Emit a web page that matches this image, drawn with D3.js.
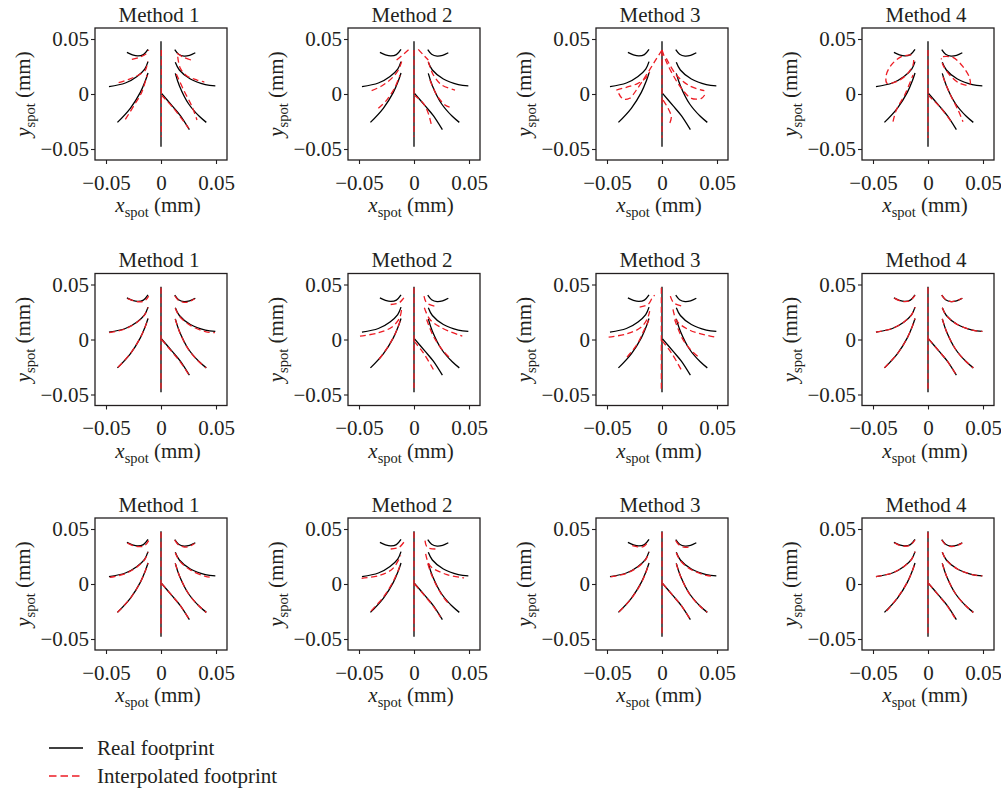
<!DOCTYPE html>
<html><head><meta charset="utf-8">
<script src="https://cdn.jsdelivr.net/npm/d3@7"></script>
<style>
body{margin:0;background:#fff}
text{font-family:"Liberation Serif","DejaVu Serif",serif;fill:#231f20}
</style>
</head><body><svg id="c" width="1001" height="791"></svg>
<script>
// ---------- data ----------
const methods = ["Method 1","Method 2","Method 3","Method 4"];
const xTicks = [-0.05, 0, 0.05];
const yTicks = [-0.05, 0, 0.05];
const legendLabels = ["Real footprint","Interpolated footprint"];

// real footprint (same in every panel), mm
const realV  = [[0,0.048],[0,-0.048]];
const realTL = [[-0.031,0.0378],[-0.026,0.0356],[-0.021,0.0346],[-0.016,0.0358],[-0.0118,0.0405]];
const realTR = [[0.0125,0.0403],[0.016,0.0362],[0.021,0.0345],[0.026,0.0352],[0.0312,0.0375]];
const realML = [[-0.0473,0.0067],[-0.0324,0.0100],[-0.0218,0.0160],[-0.0148,0.0227],[-0.0118,0.0294]];
const realMR = [[0.013,0.0288],[0.0167,0.0218],[0.0267,0.0136],[0.0403,0.0085],[0.0494,0.0073]];
const realLL = [[-0.0396,-0.0258],[-0.0279,-0.013],[-0.0188,0.0015],[-0.0142,0.0121],[-0.0118,0.0191]];
const realLR = [[0.013,0.0188],[0.0167,0.0076],[0.0252,-0.0091],[0.0348,-0.0203],[0.0412,-0.0258]];
const realD  = [[0.0005,0.0005],[0.010,-0.0106],[0.0176,-0.0197],[0.0258,-0.0324]];
const realCurves = [realV, realTL, realTR, realML, realMR, realLL, realLR, realD];

// interpolated footprints, one list of curves per panel (row by row)
const interp1_1 = [
 [[0.0003,0.040],[0.0003,-0.039]],
 [[-0.0265,0.0315],[-0.019,0.0335],[-0.013,0.037],[-0.0112,0.040]],
 [[-0.0385,0.0103],[-0.0294,0.0133],[-0.0203,0.0173],[-0.0142,0.0218],[-0.0121,0.0294]],
 [[-0.0324,-0.023],[-0.0248,-0.0109],[-0.0173,0.0021],[-0.0127,0.0173]],
 [[0.0145,0.037],[0.0206,0.0333],[0.0273,0.0309]],
 [[0.0152,0.0339],[0.0176,0.0233],[0.0236,0.0164],[0.0327,0.0127],[0.0394,0.0109]],
 [[0.0139,0.0182],[0.0206,0.0036],[0.0282,-0.0115],[0.0327,-0.0236]],
 [[0.0003,-0.0009],[0.0115,-0.013],[0.0252,-0.0312]]
];
const interp1_2 = [
 [[0,0.040],[0,-0.039]],
 [[-0.0158,0.031],[-0.0085,0.037],[-0.004,0.041]],
 [[-0.0385,0.003],[-0.0294,0.0073],[-0.0203,0.0142],[-0.0142,0.0218],[-0.0112,0.0294]],
 [[-0.0324,-0.013],[-0.0248,-0.0055],[-0.0173,0.0061],[-0.0127,0.0173]],
 [[0.0039,0.0406],[0.0085,0.0355],[0.013,0.0309]],
 [[0.013,0.0294],[0.0176,0.0173],[0.0252,0.0082],[0.0373,0.0036]],
 [[0.0145,0.0127],[0.0206,-0.0009],[0.0282,-0.010],[0.0327,-0.0121]],
 [[0,-0.001],[0.0085,-0.0085],[0.013,-0.0176],[0.016,-0.029]]
];
const interp1_3 = [
 [[0,0.040],[0,-0.040]],
 [[0,0.040],[-0.0067,0.0294],[-0.0142,0.0173],[-0.0233,0.0036],[-0.0294,-0.0039],[-0.0355,-0.0045],[-0.0394,0.0006]],
 [[-0.0415,0.0036],[-0.0324,0.0061],[-0.0218,0.0097],[-0.0142,0.0152],[-0.0112,0.0203]],
 [[0,0.040],[0.0039,0.0294],[0.010,0.0173],[0.0176,0.0052],[0.0267,-0.0039],[0.0358,-0.0039],[0.0388,-0.0009]],
 [[0.0039,0.0324],[0.013,0.0173],[0.0252,0.0073],[0.0385,0.003]],
 [[0.001,-0.0055],[0.0055,-0.013],[0.0085,-0.0206],[0.007,-0.0267]]
];
const interp1_4 = [
 [[0,0.040],[0,-0.040]],
 [[-0.0152,0.0355],[-0.0242,0.034],[-0.0333,0.0264],[-0.0379,0.0173],[-0.0373,0.0097],[-0.0288,0.0112],[-0.0197,0.0173],[-0.0136,0.0264],[-0.013,0.034]],
 [[-0.0318,-0.0252],[-0.0288,-0.0145],[-0.0212,-0.0009],[-0.0136,0.0173]],
 [[0.0136,0.034],[0.0227,0.0333],[0.0318,0.0248],[0.0379,0.0142],[0.0379,0.0082],[0.0288,0.0097],[0.0197,0.0173],[0.0136,0.0264],[0.0121,0.0324]],
 [[0.0136,0.0158],[0.0197,0.0006],[0.0273,-0.0145],[0.0318,-0.0252]],
 [[0,-0.001],[0.0106,-0.0115],[0.0212,-0.0252]]
];
const interp2_1 = [
 [[0,0.047],[0,-0.047]],
 [[-0.0303,0.0372],[-0.025,0.0352],[-0.020,0.0343],[-0.015,0.035],[-0.0112,0.0395]],
 [[-0.047,0.0062],[-0.0324,0.0096],[-0.0218,0.0157],[-0.0148,0.0225],[-0.0118,0.0292]],
 [[-0.039,-0.0252],[-0.0279,-0.0128],[-0.0188,0.0017],[-0.0142,0.012],[-0.0118,0.019]],
 [[0.0125,0.0398],[0.016,0.0355],[0.021,0.0338],[0.026,0.0345],[0.0305,0.037]],
 [[0.013,0.0285],[0.0167,0.0212],[0.0267,0.0128],[0.0403,0.0072],[0.049,0.0062]],
 [[0.013,0.0185],[0.0167,0.0073],[0.0252,-0.0094],[0.0348,-0.0205],[0.041,-0.0256]],
 [[0.0005,0],[0.010,-0.0112],[0.0176,-0.0205],[0.0258,-0.0328]]
];
const interp2_2 = [
 [[0,0.047],[0,-0.044]],
 [[-0.0212,0.0318],[-0.0136,0.0333],[-0.0091,0.0379],[-0.0076,0.0394]],
 [[-0.0491,0.003],[-0.0324,0.0061],[-0.0203,0.0112],[-0.013,0.0197],[-0.0112,0.0288]],
 [[-0.0318,-0.018],[-0.0233,-0.0061],[-0.0167,0.0061],[-0.0127,0.0167]],
 [[0.0091,0.0394],[0.0115,0.0333],[0.0191,0.0303]],
 [[0.0094,0.0288],[0.0145,0.0182],[0.0252,0.0106],[0.0439,0.003]],
 [[0.0115,0.0182],[0.0176,0.003],[0.0267,-0.0106],[0.0342,-0.0182]],
 [[0,-0.0015],[0.0085,-0.0121],[0.0176,-0.0273]]
];
const interp2_3 = [
 [[-0.0006,0.047],[-0.0006,-0.045]],
 [[-0.0203,0.0294],[-0.0127,0.0318],[-0.0088,0.0379],[-0.0067,0.0403]],
 [[-0.0485,0.0021],[-0.0318,0.0052],[-0.0197,0.0106],[-0.0136,0.0182],[-0.0112,0.0258]],
 [[-0.0318,-0.016],[-0.0227,-0.0045],[-0.0167,0.0076],[-0.0121,0.0173]],
 [[0.0076,0.0394],[0.0106,0.0333],[0.0191,0.0303]],
 [[0.010,0.0273],[0.0136,0.0167],[0.0258,0.0082],[0.0485,0.0021]],
 [[0.0115,0.0182],[0.0182,0.0015],[0.0258,-0.0091],[0.0324,-0.0152]],
 [[0,-0.001],[0.0085,-0.0121],[0.0182,-0.0288]]
];
const interp2_4 = [
 [[0,0.047],[0,-0.047]],
 [[-0.0305,0.0376],[-0.026,0.0353],[-0.021,0.0344],[-0.016,0.0356],[-0.0118,0.0402]],
 realTR, realML, realMR, realLL, realLR, realD
];
const interp3_1 = [
 [[0,0.047],[0,-0.047]],
 [[-0.0305,0.0372],[-0.025,0.0348],[-0.020,0.0339],[-0.015,0.0348],[-0.0112,0.0395]],
 [[-0.0466,0.0060],[-0.0324,0.0094],[-0.0218,0.0155],[-0.0148,0.0222],[-0.0118,0.0288]],
 realLL,
 [[0.0125,0.0398],[0.016,0.0355],[0.021,0.0336],[0.026,0.0343],[0.0305,0.0368]],
 [[0.013,0.0284],[0.0167,0.0212],[0.0267,0.0128],[0.0403,0.0070],[0.0455,0.0062]],
 realLR, realD
];
const interp3_2 = [
 [[0,0.047],[0,-0.043]],
 [[-0.0212,0.0318],[-0.0136,0.0333],[-0.0082,0.0394]],
 [[-0.0476,0.0052],[-0.0318,0.0076],[-0.0197,0.0136],[-0.0136,0.0227],[-0.0121,0.0258]],
 [[-0.039,-0.0245],[-0.0279,-0.012],[-0.0188,0.0025],[-0.0142,0.0128],[-0.012,0.0185]],
 [[0.010,0.0394],[0.0121,0.0333],[0.0206,0.0318]],
 [[0.0106,0.0273],[0.0145,0.0167],[0.0282,0.0091],[0.0455,0.0055]],
 [[0.0125,0.0185],[0.0165,0.0070],[0.0252,-0.0098],[0.0330,-0.0196]],
 [[0.0005,0],[0.010,-0.0110],[0.0176,-0.0203],[0.0240,-0.0300]]
];
const interp3_3 = [
 [[0,0.047],[0,-0.047]],
 [[-0.0270,0.0348],[-0.022,0.0337],[-0.017,0.0340],[-0.0125,0.0382]],
 [[-0.0466,0.0065],[-0.0324,0.0096],[-0.0218,0.0155],[-0.0148,0.0222],[-0.0118,0.0288]],
 [[-0.039,-0.0252],[-0.0279,-0.0132],[-0.0188,0.0010],[-0.0142,0.0118],[-0.012,0.0187]],
 [[0.0125,0.0395],[0.016,0.0350],[0.021,0.0334],[0.0265,0.0340]],
 [[0.013,0.0285],[0.0167,0.0212],[0.0267,0.0130],[0.0403,0.0078],[0.045,0.0072]],
 [[0.013,0.0185],[0.0167,0.0073],[0.0252,-0.0094],[0.0348,-0.0205],[0.041,-0.0256]],
 realD
];
const interp3_4 = [
 [[0,0.047],[0,-0.047]],
 [[-0.0305,0.0375],[-0.026,0.0352],[-0.021,0.0343],[-0.016,0.0354],[-0.0118,0.0400]],
 realML,
 [[-0.0375,-0.0245],[-0.0279,-0.0126],[-0.0188,0.0017],[-0.0142,0.0121],[-0.0118,0.0191]],
 [[0.0125,0.0400],[0.016,0.0358],[0.021,0.0341],[0.026,0.0348],[0.031,0.0372]],
 realMR, realLR,
 [[0.0005,0.0005],[0.010,-0.0108],[0.0176,-0.0202],[0.0245,-0.0310]]
];
const interpPanels = [
 [interp1_1, interp1_2, interp1_3, interp1_4],
 [interp2_1, interp2_2, interp2_3, interp2_4],
 [interp3_1, interp3_2, interp3_3, interp3_4]
];

// ---------- layout ----------
const svg = d3.select("#c");
const S = 132;                       // panel frame size
const colLeft = [95, 348, 596, 862];
const rowTop = [28, 273.5, 518];
const red = "#ed1c24", ink = "#231f20";
const FS = "21px", SUB = "14.5px";
const fmt = d => d === 0 ? "0" : d3.format(".2f")(d);

const x = d3.scaleLinear().domain([-0.06, 0.06]).range([0, S]);
const y = d3.scaleLinear().domain([-0.06, 0.06]).range([S, 0]);
const line = d3.line().x(d => x(d[0])).y(d => y(d[1])).curve(d3.curveCatmullRom.alpha(0.5));

rowTop.forEach((top, r) => {
  colLeft.forEach((left, c) => {
    const g = svg.append("g").attr("transform", `translate(${left},${top})`);

    const ax = g.append("g").attr("transform", `translate(0,${S})`)
      .call(d3.axisBottom(x).tickValues(xTicks).tickSize(4).tickPadding(11).tickFormat(fmt));
    const ay = g.append("g")
      .call(d3.axisLeft(y).tickValues(yTicks).tickSize(4).tickPadding(2).tickFormat(fmt));
    [ax, ay].forEach(a => {
      a.select(".domain").remove();
      a.attr("font-family", null).attr("font-size", null);
      a.selectAll("line").attr("stroke", ink).attr("stroke-width", 1.1);
      a.selectAll("text").attr("fill", ink).style("font-size", FS);
    });

    // real footprint
    g.selectAll("path.real").data(realCurves).join("path").attr("class", "real")
      .attr("d", line).attr("fill", "none").attr("stroke", "#000").attr("stroke-width", 1.3);
    // interpolated footprint
    g.selectAll("path.interp").data(interpPanels[r][c]).join("path").attr("class", "interp")
      .attr("d", line).attr("fill", "none").attr("stroke", red).attr("stroke-width", 1.3)
      .attr("stroke-dasharray", "6,3.5");

    g.append("rect").attr("width", S).attr("height", S)
      .attr("fill", "none").attr("stroke", ink).attr("stroke-width", 1.3);

    g.append("text").attr("x", S / 2 - 2).attr("y", -6.5).attr("text-anchor", "middle")
      .style("font-size", FS).text(methods[c]);

    const xl = g.append("text").attr("x", S / 2 - 3).attr("y", S + 52).attr("text-anchor", "middle")
      .style("font-size", FS);
    xl.append("tspan").style("font-style", "italic").text("x");
    xl.append("tspan").attr("dy", 5).style("font-size", SUB).text("spot");
    xl.append("tspan").attr("dy", -5).text(" (mm)");

    const yl = g.append("text").attr("transform", `translate(-65,${S / 2}) rotate(-90)`)
      .attr("text-anchor", "middle").style("font-size", FS);
    yl.append("tspan").style("font-style", "italic").text("y");
    yl.append("tspan").attr("dy", 5).style("font-size", SUB).text("spot");
    yl.append("tspan").attr("dy", -5).text(" (mm)");
  });
});

// legend
const leg = svg.append("g");
const legY = [748, 776];
leg.selectAll("line").data(legendLabels).join("line")
  .attr("x1", 49).attr("x2", 83).attr("y1", (d, i) => legY[i]).attr("y2", (d, i) => legY[i])
  .attr("stroke", (d, i) => i ? red : "#000").attr("stroke-width", 1.3)
  .attr("stroke-dasharray", (d, i) => i ? "7.5,4" : null);
leg.selectAll("text").data(legendLabels).join("text")
  .attr("x", 97).attr("y", (d, i) => legY[i] + 7).style("font-size", FS).text(d => d);
</script></body></html>
